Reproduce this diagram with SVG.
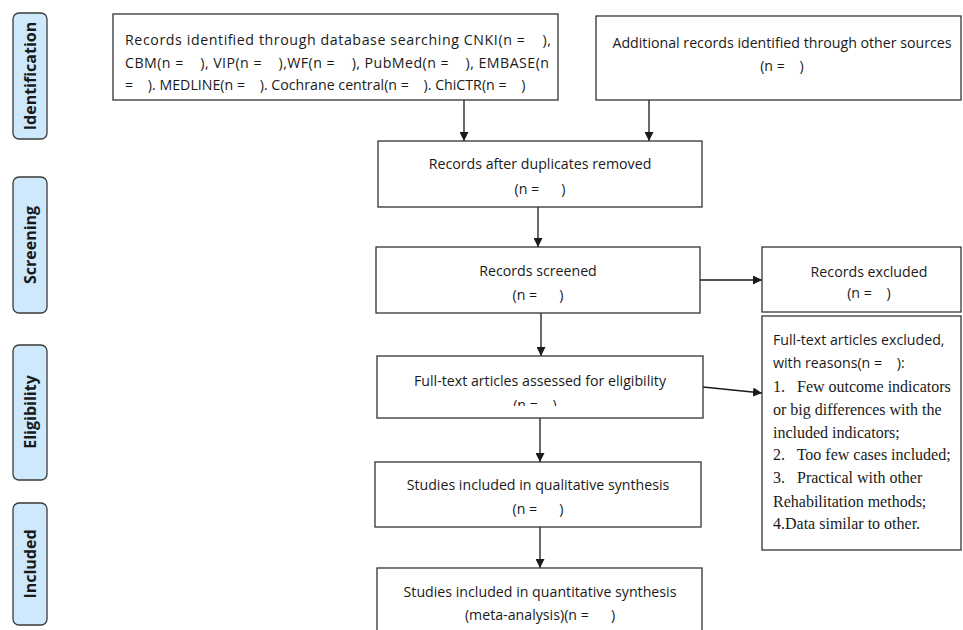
<svg xmlns="http://www.w3.org/2000/svg" width="963" height="630" viewBox="0 0 963 630">
<style>
.bg{fill:#ffffff}
.box{fill:#ffffff;stroke:#333333;stroke-width:1.3}
.side{fill:#cde9fb;stroke:#3a3a3a;stroke-width:1.3}
.t{font-family:"Open Sans","Liberation Sans",sans-serif;font-size:14.2px;fill:#1a1a1a}
.c{text-anchor:middle}
.s{font-family:"Liberation Serif","DejaVu Serif",serif;font-size:16px;fill:#1a1a1a}
.lab{font-family:"Open Sans","Liberation Sans",sans-serif;font-weight:bold;font-size:16px;fill:#1a1a1a;text-anchor:middle}
.con{stroke:#1a1a1a;stroke-width:1.3;fill:none;marker-end:url(#ah)}
</style>
<defs>
<marker id="ah" viewBox="0 0 10 10" refX="10" refY="5" markerWidth="9" markerHeight="9" markerUnits="userSpaceOnUse" orient="auto">
<path d="M0,0 L10,5 L0,10 z" fill="#1a1a1a"/>
</marker>
<clipPath id="clip5"><rect x="377" y="356" width="326" height="50"/></clipPath>
</defs>
<rect class="bg" x="0" y="0" width="963" height="630"/>

<g id="stage-identification">
<rect class="side" x="13" y="13" width="34" height="126" rx="6"/>
<text class="lab" transform="translate(36,76) rotate(-90)">Identification</text>
</g>
<g id="stage-screening">
<rect class="side" x="13" y="177" width="34" height="136" rx="6"/>
<text class="lab" transform="translate(36,245) rotate(-90)">Screening</text>
</g>
<g id="stage-eligibility">
<rect class="side" x="13" y="345" width="34" height="135" rx="6"/>
<text class="lab" transform="translate(36,412) rotate(-90)">Eligibility</text>
</g>
<g id="stage-included">
<rect class="side" x="13" y="503" width="34" height="122" rx="6"/>
<text class="lab" transform="translate(36,564) rotate(-90)">Included</text>
</g>

<g id="connectors">
<line class="con" x1="464" y1="100" x2="464" y2="141"/>
<line class="con" x1="649" y1="100" x2="649" y2="141"/>
<line class="con" x1="538" y1="207" x2="538" y2="247"/>
<line class="con" x1="700" y1="280" x2="762" y2="280"/>
<line class="con" x1="541" y1="313" x2="541" y2="356"/>
<line class="con" x1="703" y1="387" x2="762" y2="393"/>
<line class="con" x1="540" y1="418" x2="540" y2="462"/>
<line class="con" x1="540" y1="527" x2="540" y2="568"/>
</g>

<g id="node-database">
<rect class="box" x="113" y="14" width="445" height="86"/>
<text class="t" x="125" y="45" xml:space="preserve" textLength="426" lengthAdjust="spacing">Records identified through database searching CNKI(n =    ),</text>
<text class="t" x="125" y="68" xml:space="preserve" textLength="424" lengthAdjust="spacing">CBM(n =    ), VIP(n =    ),WF(n =    ), PubMed(n =    ), EMBASE(n</text>
<text class="t" x="125" y="90" xml:space="preserve">=    ). MEDLINE(n =    ). Cochrane central(n =    ). ChiCTR(n =    )</text>
</g>

<g id="node-other">
<rect class="box" x="596" y="16" width="365" height="84"/>
<text class="t c" x="782" y="48">Additional records identified through other sources</text>
<text class="t c" x="782" y="71" xml:space="preserve">(n =    )</text>
</g>

<g id="node-duplicates">
<rect class="box" x="378" y="141" width="324" height="66"/>
<text class="t c" x="540" y="169">Records after duplicates removed</text>
<text class="t c" x="540" y="194" xml:space="preserve">(n =      )</text>
</g>

<g id="node-screened">
<rect class="box" x="376" y="247" width="324" height="66"/>
<text class="t c" x="538" y="276">Records screened</text>
<text class="t c" x="538" y="300" xml:space="preserve">(n =      )</text>
</g>

<g id="node-excluded">
<rect class="box" x="762" y="247" width="199" height="65"/>
<text class="t c" x="869" y="277">Records excluded</text>
<text class="t c" x="869" y="298" xml:space="preserve">(n =    )</text>
</g>

<g id="node-fulltext-excluded">
<rect class="box" x="762" y="316" width="199" height="234"/>
<text class="t" x="773" y="345">Full-text articles excluded,</text>
<text class="t" x="773" y="368" xml:space="preserve">with reasons(n =    ):</text>
<text class="s" x="773" y="392" xml:space="preserve">1.   Few outcome indicators</text>
<text class="s" x="773" y="415">or big differences with the</text>
<text class="s" x="773" y="438">included indicators;</text>
<text class="s" x="773" y="460" xml:space="preserve">2.   Too few cases included;</text>
<text class="s" x="773" y="483" xml:space="preserve">3.   Practical with other</text>
<text class="s" x="773" y="507">Rehabilitation methods;</text>
<text class="s" x="773" y="529">4.Data similar to other.</text>
</g>

<g id="node-assessed">
<rect class="box" x="377" y="356" width="326" height="62"/>
<text class="t c" x="540" y="386">Full-text articles assessed for eligibility</text>
<text class="t c" x="535" y="410" xml:space="preserve" clip-path="url(#clip5)">(n =    )</text>
</g>

<g id="node-qualitative">
<rect class="box" x="375" y="462" width="326" height="65"/>
<text class="t c" x="538" y="490">Studies included in qualitative synthesis</text>
<text class="t c" x="538" y="514" xml:space="preserve">(n =      )</text>
</g>

<g id="node-quantitative">
<rect class="box" x="377" y="568" width="325" height="70"/>
<text class="t c" x="540" y="597">Studies included in quantitative synthesis</text>
<text class="t c" x="540" y="620" xml:space="preserve">(meta-analysis)(n =      )</text>
</g>
</svg>
